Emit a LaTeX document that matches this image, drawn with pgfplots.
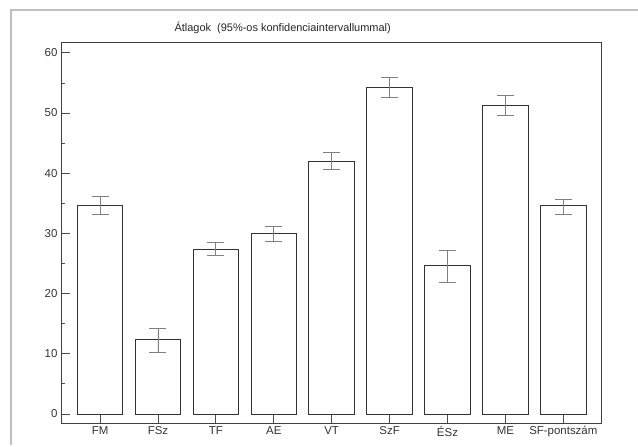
\documentclass[border=0pt]{standalone}
\usepackage{pgfplots}
\usepackage{pgfplotstable}
\pgfplotsset{compat=1.18}
\usepackage{fontspec}
\setmainfont{Liberation Sans}

% means with the upper and lower half-widths of the 95% intervals
\pgfplotstableread{
x mean plus minus
0 34.7 1.5 1.5
1 12.3 1.9 2.1
2 27.4 1.1 1.1
3 30.0 1.1 1.3
4 41.9 1.5 1.3
5 54.3 1.7 1.7
6 24.6 2.6 2.7
7 51.3 1.7 1.7
8 34.7 1.0 1.5
}\means

\begin{document}
\begin{tikzpicture}
\path[use as bounding box] (0bp,0bp) rectangle (638bp,447bp);
\draw[black!25, line width=2bp] (11bp,2bp) -- (11bp,437bp) -- (638bp,437bp);
\begin{axis}[
  at={(61bp,24bp)}, anchor=south west,
  width=540.7bp, height=381bp, scale only axis,
  xmin=-0.674, xmax=8.663, ymin=-1.5, ymax=61.8,
  xtick={0,...,8},
  xticklabels={FM,FSz,TF,AE,VT,SzF,ÉSz,ME,SF-pontszám},
  ytick={0,10,...,60}, minor y tick num=1,
  tick align=inside, xtick pos=bottom, ytick pos=left,
  major tick length=9bp, minor tick length=4bp,
  axis line style={black!75, line width=0.9bp},
  tick style={black!70, line width=0.8bp},
  tick label style={font=\fontsize{11.5}{13}\selectfont, text=black!80},
  /pgf/number format/assume math mode=true,
  title={Átlagok\ \ (95\%-os konfidenciaintervallummal)},
  title style={at={(0.41,1)}, anchor=base, yshift=5bp,
    font=\fontsize{11}{13}\selectfont, text=black!85},
]
\addplot[ybar, bar width=45.5bp, draw=black!80, fill=white, line width=0.9bp,
  error bars/.cd, y dir=both, y explicit,
  error bar style={black!50, line width=0.8bp},
  error mark options={rotate=90, mark size=8.5bp, black!50, line width=0.8bp}]
  table[x=x, y=mean, y error plus=plus, y error minus=minus]{\means};
\end{axis}
\end{tikzpicture}
\end{document}
